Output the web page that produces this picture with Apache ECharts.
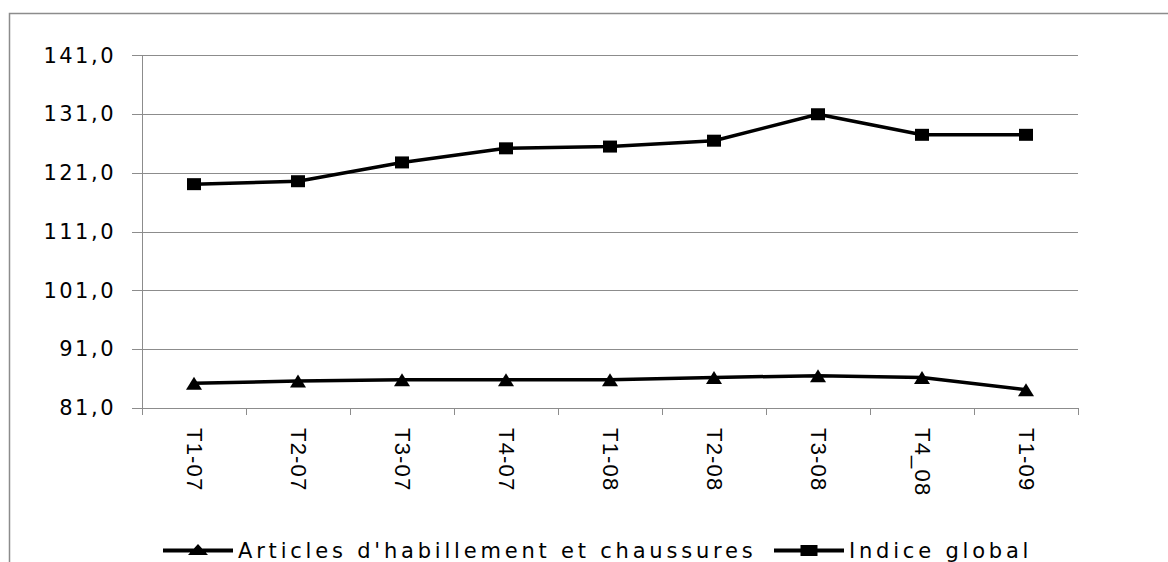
<!DOCTYPE html>
<html><head><meta charset="utf-8">
<script src="https://cdn.jsdelivr.net/npm/echarts@6/dist/echarts.min.js"></script>
<style>
html,body{margin:0;padding:0;background:#fff}
#c{width:1168px;height:562px}
#c svg text[style*="ylbl"], #c svg text[font-family*="ylbl"]{letter-spacing:2.5px}
#c svg text[style*="xlbl"], #c svg text[font-family*="xlbl"]{letter-spacing:1.2px}
#c svg text[style*="lgd"], #c svg text[font-family*="lgd"]{letter-spacing:3.8px}
</style>
</head><body><div id="c"></div>
<script>
const categories = ['T1-07','T2-07','T3-07','T4-07','T1-08','T2-08','T3-08','T4_08','T1-09'];
const articles = [85.2, 85.6, 85.8, 85.8, 85.8, 86.2, 86.5, 86.2, 84.1];
const indiceGlobal = [119.1, 119.6, 122.8, 125.2, 125.5, 126.5, 131.0, 127.5, 127.5];
const seriesNames = ["Articles d'habillement et chaussures", 'Indice global'];
const yMin = 81, yMax = 141, yStep = 10;

const iconTri = 'path://M0,0 L0,0 Z M70,16 L70,16 Z M0,6 L70,6 L70,10 L0,10 Z M35,1.5 L45,12.5 L25,12.5 Z';
const iconSq = 'path://M0,0 L0,0 Z M70,16 L70,16 Z M0,6 L70,6 L70,10 L0,10 Z M26.5,2.5 L43.5,2.5 L43.5,13.5 L26.5,13.5 Z';
const legendBase = {
  top:540, padding:0, itemWidth:70, itemHeight:16,
  itemStyle:{borderWidth:0},
  textStyle:{fontFamily:'DejaVu Sans, lgd', fontSize:21, color:'#000'}
};

const chart = echarts.init(document.getElementById('c'), null, {renderer:'svg'});
chart.setOption({
  animation:false,
  backgroundColor:'#fff',
  graphic:[{type:'rect', shape:{x:9.5,y:13.5,width:1300,height:700}, style:{fill:'none', stroke:'#8c8c8c', lineWidth:1.5}, silent:true}],
  grid:{left:142, right:90, top:55.5, bottom:154, containLabel:false},
  legend:[
    Object.assign({}, legendBase, {left:163, data:[{name:seriesNames[0], icon:iconTri}]}),
    Object.assign({}, legendBase, {left:774, data:[{name:seriesNames[1], icon:iconSq}]})
  ],
  xAxis:{
    type:'category', data:categories, boundaryGap:true,
    axisLine:{lineStyle:{color:'#8c8c8c', width:1}},
    axisTick:{show:true, length:7, alignWithLabel:false, lineStyle:{color:'#8c8c8c'}},
    axisLabel:{rotate:-90, margin:20, fontFamily:'Liberation Sans, xlbl', fontSize:22, color:'#000', interval:0}
  },
  yAxis:{
    type:'value', min:yMin, max:yMax, interval:yStep,
    axisLine:{show:true, lineStyle:{color:'#8c8c8c', width:1}},
    axisTick:{show:true, length:10, lineStyle:{color:'#8c8c8c'}},
    splitLine:{lineStyle:{color:'#8c8c8c', width:1}},
    axisLabel:{margin:26, fontFamily:'DejaVu Sans, ylbl', fontSize:21, color:'#000',
      formatter:v=>v.toFixed(1).replace('.',',')}
  },
  series:[
    {name:seriesNames[0], type:'line', data:articles, symbol:'triangle', symbolSize:[16,13],
      lineStyle:{color:'#000', width:3.5}, itemStyle:{color:'#000'}},
    {name:seriesNames[1], type:'line', data:indiceGlobal, symbol:'rect', symbolSize:[14,12],
      lineStyle:{color:'#000', width:3.5}, itemStyle:{color:'#000'}}
  ]
});
</script></body></html>
